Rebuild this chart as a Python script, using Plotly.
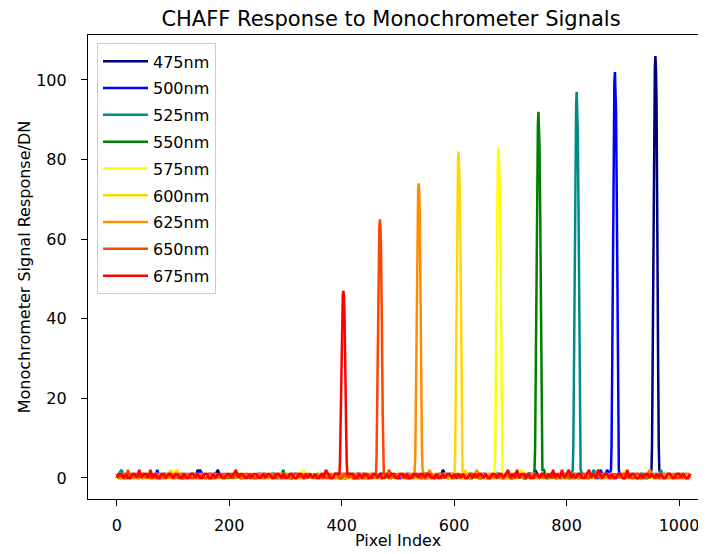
import plotly.graph_objects as go

# ---------------- data ----------------
labels = ["475nm", "500nm", "525nm", "550nm", "575nm", "600nm", "625nm", "650nm", "675nm"]
colors = ["#000080", "#0000ff", "#008b8b", "#008000", "#ffff00",
          "#ffd700", "#ff8c00", "#ff4500", "#ff0000"]

# pixel index of each monochromator peak
peak_pixel = [958, 886, 818, 750, 679, 608, 537, 468, 403]
peak_offsets = [-7, -6, -5, -4, -3, -2, -1, 0, 1, 2, 3, 4, 5, 6, 7]
peak_475 = [2, 8, 27, 53, 80, 95, 103, 106, 103, 95, 79, 53, 26, 8, 2]
peak_500 = [2, 8, 25, 51, 77, 92, 99, 102, 99, 92, 76, 51, 26, 8, 2]
peak_525 = [2, 8, 24, 49, 73, 87, 94, 97, 94, 87, 72, 48, 24, 8, 2]
peak_550 = [2, 7, 23, 46, 69, 83, 89, 92, 89, 83, 69, 46, 23, 7, 2]
peak_575 = [2, 7, 21, 41, 62, 75, 81, 83, 80, 75, 62, 42, 21, 7, 2]
peak_600 = [2, 7, 20, 41, 61, 74, 80, 82, 79, 74, 61, 41, 21, 6, 2]
peak_625 = [2, 6, 18, 37, 56, 67, 72, 74, 72, 66, 55, 37, 19, 6, 2]
peak_650 = [1, 5, 16, 33, 49, 58, 63, 65, 63, 58, 49, 32, 16, 5, 1]
peak_675 = [1, 4, 12, 24, 35, 42, 46, 47, 46, 42, 35, 23, 12, 4, 1]
peak_profiles = [peak_475, peak_500, peak_525, peak_550, peak_575,
                 peak_600, peak_625, peak_650, peak_675]

# baseline DN readings, one digit every 4 pixels (pixel 0 .. 1020)
baseline_step = 4
base_475 = """
01100101 10011010 01010110 10101001 01100110 10011001 01011010 10100101
10010110 01101001 10100101 01011010 01100101 10011010 01010110 10101001
01101010 10010101 01100110 10011001 01011001 10100110 01101001 10010110
10101001 01010110 10011010 01100101 10010110 01101001 01011010 10100101
"""
base_500 = """
10010110 01101010 10100101 01011001 10011010 01100101 10101010 01010101
01101001 10010110 01011010 10100101 01100110 10011001 01010110 10101001
10011010 01100101 10101001 01010110 10010101 01101010 01011001 10100110
01100110 10011001 01101001 10010110 01011010 10100101 10010110 01101001
"""
base_525 = """
01011010 10100101 01100101 10011010 01101001 10010110 01010110 10101001
10100110 01011001 10010101 01101010 10011001 01100110 10101001 01010110
01101001 10010110 01011010 10100101 01100110 10011001 01010101 10101010
10010110 01101001 10100101 01011010 10011010 01100101 01101001 10010110
"""
base_550 = """
10101001 01010110 10011001 01100110 10100101 01011010 10010110 01101001
01010110 10101001 01101010 10010101 01011001 10100110 01100101 10011010
10010101 01101010 10100110 01011001 10011010 01100101 01101001 10010110
01100101 10011010 01010110 10101001 01101001 10010110 10100101 01011010
"""
base_575 = """
01100110 10011001 01101001 10010110 01011010 10100101 01100101 10011010
10011001 01100110 10100101 01011010 10010110 01101001 10101001 01010110
01011001 10100110 01100101 10011010 01101010 10010101 01010110 10101001
10100101 01011010 10010110 01101001 01100110 10011001 01011010 10100101
"""
base_600 = """
10011010 01100101 01011001 10100110 10010110 01101001 01101010 10010101
01100101 10011010 10010110 01101001 01010110 10101001 01011001 10100110
10101010 01010101 01101001 10010110 10100110 01011001 10011010 01100101
01011010 10100101 01100110 10011001 10101001 01010110 01100101 10011010
"""
base_625 = """
01010110 10101001 10010110 01101001 01100101 10011010 10100110 01011001
10010101 01101010 01011010 10100101 10011001 01100110 01101001 10010110
01100110 10011001 10101001 01010110 01011010 10100101 10010110 01101001
10100110 01011001 01101010 10010101 01100101 10011010 10011001 01100110
"""
base_650 = """
10100101 01011010 01101001 10010110 10011010 01100101 01010110 10101001
01101010 10010101 10100110 01011001 01100110 10011001 10010101 01101010
10010110 01101001 01011001 10100110 10101001 01010110 01101010 10010101
01011010 10100101 10011010 01100101 01101001 10010110 01100110 10011001
"""
base_675 = """
01101001 10201102 01001101 10110010 01101001 10010110 01101201 10010110
01011001 10100110 01101010 10010210 01101001 11001011 00110100 10110011
01001101 10110010 01011010 10100101 01101001 10110120 10201101 00110110
10201020 12010110 01201021 01101001 10020110 01011010 10100110 01101001
"""
baselines = [base_475, base_500, base_525, base_550, base_575,
             base_600, base_625, base_650, base_675]

# isolated 2-DN readings (pixel index, DN)
spikes_475 = [(144, 2), (180, 2), (580, 2), (744, 2)]
spikes_500 = [(72, 2), (148, 2), (860, 2), (872, 2)]
spikes_525 = [(8, 2), (968, 2), (848, 2)]
spikes_550 = [(296, 2), (760, 2)]
spikes_575 = [(104, 2), (332, 2), (720, 2), (904, 2)]
spikes_600 = [(96, 2), (108, 2), (620, 2)]
spikes_625 = [(948, 2), (640, 2), (556, 2)]
spikes_650 = [(20, 2), (484, 2)]
spikes_675 = []
spikes = [spikes_475, spikes_500, spikes_525, spikes_550, spikes_575,
          spikes_600, spikes_625, spikes_650, spikes_675]

x_ticks = [0, 200, 400, 600, 800, 1000]
y_ticks = [0, 20, 40, 60, 80, 100]

# ---------------- figure ----------------
# the page body has an 8px default margin, so the figure is sized and
# laid out to fill the 706x554 window from that offset
FONT = "DejaVu Sans"
W, H, OFF = 698, 546, 8
fig = go.Figure()

for k in range(len(labels)):
    base = [int(ch) for ch in "".join(baselines[k].split())]
    bx = [i * baseline_step for i in range(len(base))]
    for px, v in spikes[k]:
        base[px // baseline_step] = v
    c = peak_pixel[k]
    pts = [(x, y) for x, y in zip(bx, base) if abs(x - c) > max(peak_offsets)]
    pts += [(c + o, v) for o, v in zip(peak_offsets, peak_profiles[k])]
    pts.sort()
    fig.add_trace(go.Scatter(
        x=[p[0] for p in pts], y=[p[1] for p in pts],
        mode="lines", name=labels[k], legendgroup=labels[k],
        line=dict(color=colors[k], width=2.5),
    ))

fig.update_layout(
    width=W, height=H,
    margin=dict(l=88 - OFF, r=0, t=35 - OFF, b=H - (499 - OFF), autoexpand=False),
    paper_bgcolor="white", plot_bgcolor="white",
    font=dict(family=FONT, size=16, color="black"),
    title=dict(text="CHAFF Response to Monochrometer Signals",
               font=dict(family=FONT, size=21, color="black"),
               x=(391 - OFF) / W, xref="container", xanchor="center",
               y=1 - (19 - OFF) / H, yref="container", yanchor="middle"),
    showlegend=True,
    legend=dict(x=(97 - 88) / 618, y=0.982, xanchor="left", yanchor="top",
                bgcolor="white", bordercolor="#cccccc", borderwidth=1,
                font=dict(family=FONT, size=16, color="black"),
                tracegroupgap=3, itemwidth=45),
    annotations=[
        dict(text="Pixel Index", xref="paper", yref="paper",
             x=(398 - 88) / 618, y=-(541 - 499) / 464.5,
             xanchor="center", yanchor="middle", showarrow=False,
             font=dict(family=FONT, size=16, color="black")),
        dict(text="Monochrometer Signal Response/DN", xref="paper", yref="paper",
             x=-(88 - 24) / 618, y=(499 - 267) / 464.5, textangle=-90,
             xanchor="center", yanchor="middle", showarrow=False,
             font=dict(family=FONT, size=16, color="black")),
    ],
)
fig.update_xaxes(
    range=[-51.15, 1048], tickvals=x_ticks, ticks="outside", ticklen=6,
    tickwidth=1.2, tickcolor="black", showline=True, linecolor="black",
    linewidth=1.2, mirror=True, showgrid=False, zeroline=False,
    automargin=False, ticklabelstandoff=6,
)
fig.update_yaxes(
    range=[-5.3, 111.3], tickvals=y_ticks, ticks="outside", ticklen=6,
    tickwidth=1.2, tickcolor="black", showline=True, linecolor="black",
    linewidth=1.2, showgrid=False, zeroline=False,
    automargin=False, ticklabelstandoff=11,
)

fig.write_html("out.html")
